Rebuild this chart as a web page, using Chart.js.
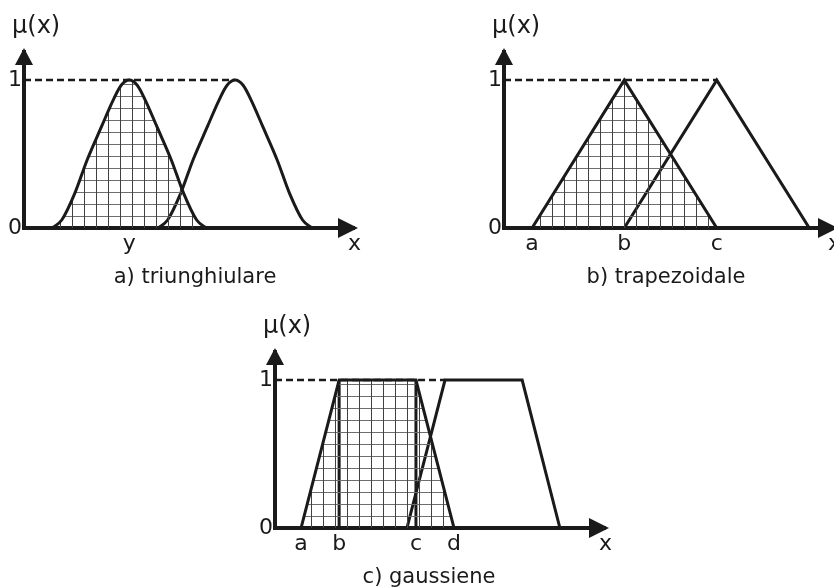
<!DOCTYPE html>
<html>
<head>
<meta charset="utf-8">
<script src="https://cdn.jsdelivr.net/npm/chart.js@4/dist/chart.umd.min.js"></script>
<style>
  html, body { margin: 0; padding: 0; background: #fff; overflow: hidden; width: 834px; height: 588px; }
  canvas { position: absolute; }
</style>
</head>
<body>
<canvas id="panelA" width="380" height="290" style="left:0px;top:0px"></canvas>
<canvas id="panelB" width="380" height="290" style="left:480px;top:0px"></canvas>
<canvas id="panelC" width="380" height="290" style="left:251px;top:300px"></canvas>
<script>
// a) two bell shaped sets
const bellAX = [0.85, 1.13, 1.52, 1.89, 2.32, 2.67, 2.91, 3.15, 3.39, 3.63, 3.98, 4.41, 4.78, 5.17, 5.45];
const bellAY = [0, 0.054, 0.234, 0.46, 0.685, 0.865, 0.965, 1, 0.965, 0.865, 0.685, 0.46, 0.234, 0.054, 0];
const bellBX = [4.02, 4.30, 4.69, 5.06, 5.49, 5.84, 6.08, 6.32, 6.56, 6.80, 7.15, 7.58, 7.95, 8.34, 8.62];
const bellBY = [0, 0.054, 0.234, 0.46, 0.685, 0.865, 0.965, 1, 0.965, 0.865, 0.685, 0.46, 0.234, 0.054, 0];
const aTicks = [3.15];
const aTickLabels = ['y'];

// b) two triangles
const triAX = [0.84, 3.6, 6.37];
const triAY = [0, 1, 0];
const triBX = [3.6, 6.37, 9.14];
const triBY = [0, 1, 0];
const bTicks = [0.84, 3.6, 6.37];
const bTickLabels = ['a', 'b', 'c'];

// c) two trapezoids
const trapAX = [0.78, 1.92, 4.22, 5.36];
const trapAY = [0, 1, 1, 0];
const trapBX = [3.95, 5.09, 7.40, 8.53];
const trapBY = [0, 1, 1, 0];
const cTicks = [0.78, 1.92, 4.22, 5.36];
const cTickLabels = ['a', 'b', 'c', 'd'];
const cCore = [1.92, 4.22];

const yTicks = [0, 1];
const yTickLabels = ['0', '1'];

const ink = '#1a1a1a';
const fontFamily = "'DejaVu Sans', Verdana, sans-serif";

const pts = (xs, ys) => xs.map((x, i) => ({ x: x, y: ys[i] }));

function hatch() {
    const c = document.createElement('canvas');
    c.width = 12; c.height = 12;
    const g = c.getContext('2d');
    g.fillStyle = '#6e6e6e';
    g.fillRect(0, 0, 12, 1);
    g.fillStyle = '#404040';
    g.fillRect(0, 0, 1, 12);
    return g.createPattern(c, 'repeat');
}
const pattern = hatch();

// arrows, axis names and caption
const decor = {
    id: 'decor',
    afterDraw(chart, args, opts) {
        const { ctx, chartArea: { left, right, top, bottom } } = chart;
        ctx.save();
        ctx.fillStyle = ink;
        ctx.beginPath();
        ctx.moveTo(left, top - 4);
        ctx.lineTo(left - 9, top + 13);
        ctx.lineTo(left + 9, top + 13);
        ctx.closePath();
        ctx.fill();
        ctx.beginPath();
        ctx.moveTo(right + 4, bottom);
        ctx.lineTo(right - 16, bottom - 10);
        ctx.lineTo(right - 16, bottom + 10);
        ctx.closePath();
        ctx.fill();
        ctx.textBaseline = 'alphabetic';
        ctx.textAlign = 'left';
        ctx.font = '24px ' + fontFamily;
        ctx.fillText('\u03bc(x)', left - 12, bottom - 195);
        ctx.font = '22px ' + fontFamily;
        ctx.textAlign = 'right';
        ctx.fillText('x', right + 7, bottom + 22);
        ctx.textAlign = 'center';
        ctx.font = '21px ' + fontFamily;
        ctx.fillText(opts.caption, opts.captionX, bottom + 55);
        ctx.restore();
    }
};

function outline(data, filled, smooth) {
    return {
        data: data,
        borderColor: ink,
        borderWidth: 3,
        backgroundColor: filled ? pattern : 'transparent',
        fill: filled ? 'origin' : false,
        cubicInterpolationMode: smooth ? 'monotone' : 'default',
        tension: 0,
        borderJoinStyle: 'miter',
        pointRadius: 0
    };
}

function dashed(xEnd) {
    return {
        data: [{ x: 0, y: 1 }, { x: xEnd, y: 1 }],
        borderColor: ink,
        borderWidth: 2.5,
        borderDash: [7, 4],
        fill: false,
        pointRadius: 0
    };
}

function panel(id, datasets, xTicks, xLabels, caption, captionX) {
    const font = { family: fontFamily, size: 22 };
    return new Chart(document.getElementById(id), {
        type: 'line',
        data: { datasets: datasets },
        plugins: [decor],
        options: {
            responsive: false,
            animation: false,
            devicePixelRatio: 1,
            layout: { padding: { top: 52, left: 0, right: 26, bottom: 33 } },
            plugins: {
                legend: { display: false },
                tooltip: { enabled: false },
                decor: { caption: caption, captionX: captionX }
            },
            scales: {
                x: {
                    type: 'linear',
                    min: 0,
                    max: 9.88,
                    grid: { display: false, drawTicks: false },
                    border: { display: true, width: 4, color: ink },
                    afterBuildTicks: s => { s.ticks = xTicks.map(v => ({ value: v })); },
                    afterFit: s => { s.height = 29; },
                    ticks: {
                        autoSkip: false,
                        maxRotation: 0,
                        padding: 3,
                        color: ink,
                        font: font,
                        callback: (v, i) => xLabels[i]
                    }
                },
                y: {
                    type: 'linear',
                    min: 0,
                    max: 1.19,
                    grid: { display: false, drawTicks: false },
                    border: { display: true, width: 4, color: ink },
                    afterBuildTicks: s => { s.ticks = yTicks.map(v => ({ value: v })); },
                    afterFit: s => { s.width = 24; },
                    ticks: {
                        padding: 2,
                        color: ink,
                        font: font,
                        callback: (v, i) => yTickLabels[i]
                    }
                }
            }
        }
    });
}

panel('panelA', [
    dashed(bellBX[7]),
    outline(pts(bellAX, bellAY), true, true),
    outline(pts(bellBX, bellBY), false, true)
], aTicks, aTickLabels, 'a) triunghiulare', 195);

panel('panelB', [
    dashed(triBX[1]),
    outline(pts(triAX, triAY), true, false),
    outline(pts(triBX, triBY), false, false)
], bTicks, bTickLabels, 'b) trapezoidale', 186);

panel('panelC', [
    dashed(trapBX[1]),
    outline(pts(trapAX, trapAY), true, false),
    outline(pts(trapBX, trapBY), false, false),
    outline([{ x: cCore[0], y: 0 }, { x: cCore[0], y: 1 }], false, false),
    outline([{ x: cCore[1], y: 0 }, { x: cCore[1], y: 1 }], false, false)
], cTicks, cTickLabels, 'c) gaussiene', 178);
</script>
</body>
</html>
